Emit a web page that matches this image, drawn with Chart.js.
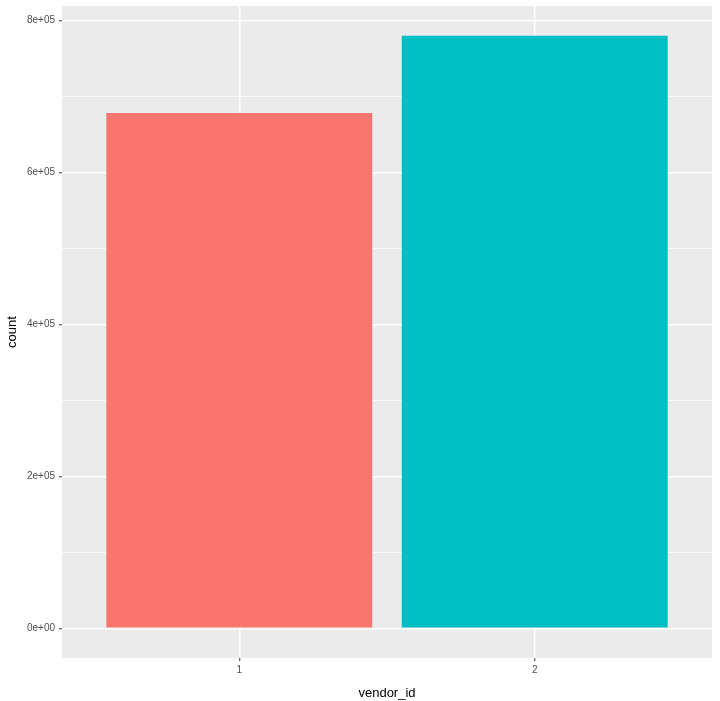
<!DOCTYPE html>
<html>
<head>
<meta charset="utf-8">
<script src="https://cdn.jsdelivr.net/npm/chart.js@4/dist/chart.umd.min.js"></script>
<style>
  html, body { margin: 0; padding: 0; background: #fff; }
  #wrap { width: 720px; height: 701px; }
</style>
</head>
<body>
<div id="wrap"><canvas id="chart"></canvas></div>
<script>
// data
const vendors = [1, 2];
const counts = [678342, 780302];
const barColors = ["#F8766D", "#00BFC4"];
const yTicks = [0, 100000, 200000, 300000, 400000, 500000, 600000, 700000, 800000];
const yLabels = ["0e+00", "", "2e+05", "", "4e+05", "", "6e+05", "", "8e+05"];

// ggplot style expansion: 5% on y, 0.6 units on discrete x
const yMax = Math.max(...counts);
const yPad = yMax * 0.05;

const panelBg = {
    id: "panelBg",
    beforeDraw(chart) {
        const { ctx, chartArea: a } = chart;
        ctx.save();
        ctx.fillStyle = "#EBEBEB";
        ctx.fillRect(a.left, a.top, a.right - a.left, a.bottom - a.top);
        ctx.restore();
    }
};

const isMajor = v => yTicks.indexOf(v) % 2 === 0;

new Chart(document.getElementById("chart"), {
    type: "bar",
    data: {
        datasets: [{
            data: vendors.map((v, i) => ({ x: v, y: counts[i] })),
            backgroundColor: barColors,
            borderWidth: 0,
            barPercentage: 0.9,
            categoryPercentage: 1
        }]
    },
    options: {
        responsive: true,
        maintainAspectRatio: false,
        animation: false,
        layout: { padding: { top: 6, right: 8, left: 0, bottom: 0 } },
        plugins: {
            legend: { display: false },
            tooltip: { enabled: false }
        },
        scales: {
            x: {
                type: "linear",
                min: 0.4,
                max: 2.6,
                offset: false,
                afterBuildTicks: s => { s.ticks = vendors.map(v => ({ value: v })); },
                afterFit: s => { s.height = 43; s.paddingLeft = 0; s.paddingRight = 0; },
                border: { display: false },
                grid: {
                    offset: false,
                    color: "#FFFFFF",
                    lineWidth: 1.5,
                    tickColor: "#333333",
                    tickLength: 3,
                    tickWidth: 1
                },
                ticks: {
                    color: "#4D4D4D",
                    font: { family: "Liberation Sans", size: 10 },
                    padding: 3,
                    callback: v => String(v)
                },
                title: {
                    display: true,
                    text: "vendor_id",
                    color: "#000000",
                    font: { family: "Liberation Sans", size: 13 },
                    padding: { top: 6, bottom: 0 }
                }
            },
            y: {
                min: -yPad,
                max: yMax + yPad,
                afterBuildTicks: s => { s.ticks = yTicks.map(v => ({ value: v })); },
                afterFit: s => { s.width = 62; s.paddingTop = 0; s.paddingBottom = 0; },
                border: { display: false },
                grid: {
                    color: "#FFFFFF",
                    lineWidth: ctx => isMajor(ctx.tick.value) ? 1.5 : 0.75,
                    tickColor: ctx => isMajor(ctx.tick.value) ? "#333333" : "rgba(0,0,0,0)",
                    tickLength: 3,
                    tickWidth: 1
                },
                ticks: {
                    color: "#4D4D4D",
                    font: { family: "Liberation Sans", size: 10 },
                    padding: 4,
                    autoSkip: false,
                    callback: (v, i) => yLabels[i]
                },
                title: {
                    display: true,
                    text: "count",
                    color: "#000000",
                    font: { family: "Liberation Sans", size: 13 },
                    padding: { top: 5, bottom: 6 }
                }
            }
        }
    },
    plugins: [panelBg]
});
</script>
</body>
</html>
